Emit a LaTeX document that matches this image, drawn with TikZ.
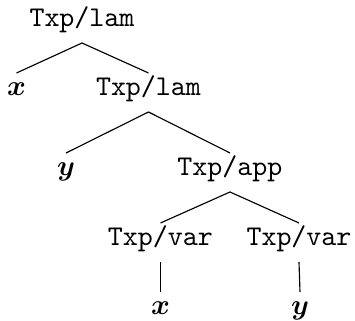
\documentclass[tikz,border=0pt]{standalone}
\usepackage{bm}
\begin{document}
\begin{tikzpicture}[x=0.35pt,y=-0.35pt,
  lbl/.style={anchor=base,inner xsep=0pt,inner ysep=2pt,outer sep=0pt,
              text height=6.05pt,text depth=3.6pt},
  tcon/.style={font=\ttfamily,lbl},
  mvar/.style={lbl},
  edge/.style={draw,line width=0.4pt}]
  \useasboundingbox (0,0) rectangle (355,321);
  % level 0
  \node[tcon] (root) at (82,27) {Txp/lam};
  % level 1
  \node[mvar] (x1)   at (16.5,96) {$\bm{x}$};
  \node[tcon] (lam2) at (148.5,96) {Txp/lam};
  % level 2
  \node[mvar] (y1)   at (66,176) {$\bm{y}$};
  \node[tcon] (app)  at (230,176) {Txp/app};
  % level 3
  \node[tcon] (varx) at (160.5,246) {Txp/var};
  \node[tcon] (vary) at (299,246) {Txp/var};
  % level 4
  \node[mvar] (x2)   at (160.5,315) {$\bm{x}$};
  \node[mvar] (y2)   at (300,315) {$\bm{y}$};
  % edges
  \draw[edge] (root.south) -- (x1.north);
  \draw[edge] (root.south) -- (lam2.north);
  \draw[edge] (lam2.south) -- (y1.north);
  \draw[edge] (lam2.south) -- (app.north);
  \draw[edge] (app.south) -- (varx.north);
  \draw[edge] (app.south) -- (vary.north);
  \draw[edge] (varx.south) -- (x2.north);
  \draw[edge] (vary.south) -- (y2.north);
\end{tikzpicture}
\end{document}
